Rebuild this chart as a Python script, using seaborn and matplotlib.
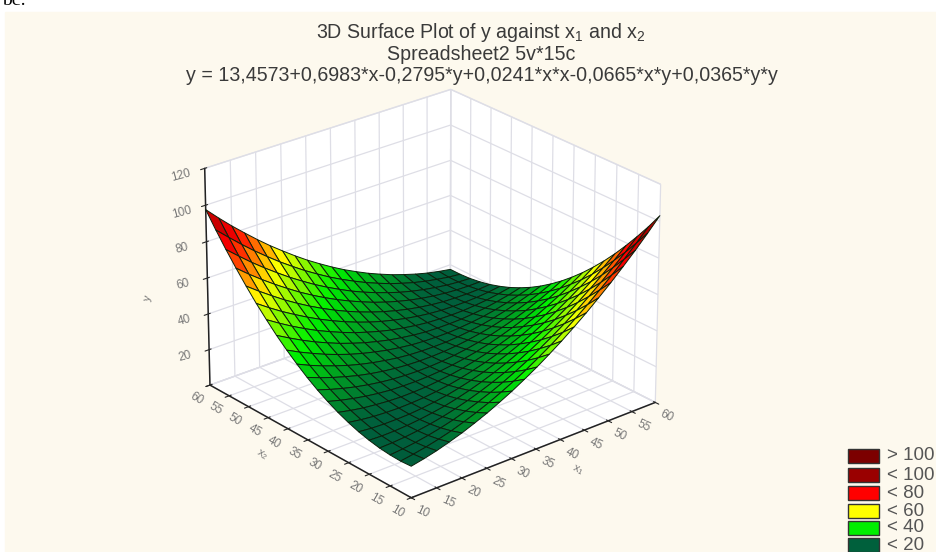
import numpy as np
import matplotlib
matplotlib.use("Agg")
import matplotlib.pyplot as plt
from matplotlib.patches import Rectangle
import seaborn as sns

x1_grid = [10, 12.5, 15, 17.5, 20, 22.5, 25, 27.5, 30, 32.5, 35, 37.5, 40, 42.5, 45, 47.5, 50, 52.5, 55, 57.5, 60]
x2_grid = [10, 12.5, 15, 17.5, 20, 22.5, 25, 27.5, 30, 32.5, 35, 37.5, 40, 42.5, 45, 47.5, 50, 52.5, 55, 57.5, 60]
# surface heights, one row per x2 value, taken from the fitted equation printed in the title
z_vals = [
    [17.1, 18.5, 20.2, 22.3, 24.6, 27.3, 30.2, 33.5, 37.0, 40.9, 45.0, 49.5, 54.2, 59.3, 64.6, 70.3, 76.2, 82.5, 89.0, 95.9, 103.1],
    [16.7, 17.8, 19.1, 20.7, 22.6, 24.9, 27.4, 30.2, 33.4, 36.8, 40.5, 44.6, 48.9, 53.5, 58.5, 63.7, 69.3, 75.1, 81.3, 87.7, 94.4],
    [16.9, 17.5, 18.4, 19.6, 21.1, 22.9, 25.1, 27.5, 30.2, 33.2, 36.5, 40.1, 44.1, 48.3, 52.8, 57.6, 62.8, 68.2, 73.9, 79.9, 86.3],
    [17.5, 17.7, 18.2, 19.0, 20.1, 21.5, 23.2, 25.2, 27.5, 30.1, 33.0, 36.2, 39.7, 43.5, 47.6, 52.0, 56.7, 61.7, 67.0, 72.7, 78.6],
    [18.6, 18.3, 18.4, 18.8, 19.5, 20.5, 21.7, 23.3, 25.2, 27.4, 29.9, 32.7, 35.8, 39.2, 42.8, 46.8, 51.1, 55.7, 60.6, 65.8, 71.3],
    [20.1, 19.4, 19.1, 19.1, 19.3, 19.9, 20.8, 21.9, 23.4, 25.2, 27.2, 29.6, 32.3, 35.3, 38.5, 42.1, 46.0, 50.2, 54.7, 59.4, 64.5],
    [22.1, 21.0, 20.2, 19.8, 19.6, 19.8, 20.2, 21.0, 22.0, 23.4, 25.1, 27.0, 29.3, 31.8, 34.7, 37.9, 41.3, 45.1, 49.2, 53.5, 58.2],
    [24.5, 23.0, 21.8, 21.0, 20.4, 20.1, 20.2, 20.5, 21.2, 22.1, 23.3, 24.9, 26.7, 28.9, 31.3, 34.1, 37.1, 40.5, 44.1, 48.1, 52.3],
    [27.4, 25.5, 23.9, 22.6, 21.6, 20.9, 20.6, 20.5, 20.7, 21.2, 22.1, 23.2, 24.6, 26.3, 28.4, 30.7, 33.3, 36.3, 39.5, 43.0, 46.9],
    [30.7, 28.4, 26.4, 24.7, 23.3, 22.2, 21.4, 20.9, 20.7, 20.8, 21.2, 22.0, 23.0, 24.3, 25.9, 27.8, 30.0, 32.5, 35.4, 38.5, 41.9],
    [34.5, 31.8, 29.4, 27.3, 25.4, 23.9, 22.7, 21.8, 21.2, 20.9, 20.9, 21.2, 21.8, 22.7, 23.9, 25.4, 27.2, 29.3, 31.7, 34.4, 37.4],
    [38.8, 35.6, 32.8, 30.3, 28.0, 26.1, 24.5, 23.2, 22.1, 21.4, 21.0, 20.9, 21.0, 21.5, 22.3, 23.4, 24.8, 26.5, 28.5, 30.7, 33.3],
    [43.5, 39.9, 36.7, 33.7, 31.1, 28.7, 26.7, 25.0, 23.5, 22.4, 21.5, 21.0, 20.8, 20.8, 21.2, 21.9, 22.8, 24.1, 25.7, 27.6, 29.7],
    [48.6, 44.7, 41.0, 37.6, 34.6, 31.8, 29.4, 27.2, 25.4, 23.8, 22.6, 21.6, 20.9, 20.6, 20.6, 20.8, 21.4, 22.2, 23.4, 24.8, 26.6],
    [54.3, 49.9, 45.8, 42.0, 38.5, 35.4, 32.5, 29.9, 27.7, 25.7, 24.0, 22.7, 21.6, 20.8, 20.4, 20.2, 20.3, 20.8, 21.5, 22.6, 23.9],
    [60.3, 55.5, 51.0, 46.9, 43.0, 39.4, 36.1, 33.1, 30.4, 28.0, 25.9, 24.2, 22.7, 21.5, 20.6, 20.0, 19.8, 19.8, 20.1, 20.7, 21.7],
    [66.9, 61.7, 56.8, 52.1, 47.8, 43.8, 40.1, 36.7, 33.6, 30.8, 28.3, 26.1, 24.2, 22.6, 21.3, 20.3, 19.6, 19.3, 19.2, 19.4, 19.9],
    [73.9, 68.2, 62.9, 57.9, 53.2, 48.7, 44.6, 40.8, 37.3, 34.1, 31.2, 28.5, 26.2, 24.2, 22.5, 21.1, 20.0, 19.2, 18.7, 18.5, 18.6],
    [81.3, 75.3, 69.5, 64.1, 59.0, 54.1, 49.6, 45.3, 41.4, 37.8, 34.4, 31.4, 28.7, 26.3, 24.1, 22.3, 20.8, 19.6, 18.6, 18.0, 17.7],
    [89.2, 82.8, 76.6, 70.7, 65.2, 59.9, 55.0, 50.3, 46.0, 41.9, 38.2, 34.8, 31.6, 28.8, 26.2, 24.0, 22.0, 20.4, 19.1, 18.0, 17.3],
    [97.6, 90.7, 84.1, 77.9, 71.9, 66.2, 60.9, 55.8, 51.0, 46.6, 42.4, 38.5, 35.0, 31.7, 28.8, 26.1, 23.8, 21.7, 19.9, 18.5, 17.3],
]
axis_ticks = [10, 15, 20, 25, 30, 35, 40, 45, 50, 55, 60]
z_ticks = [0, 20, 40, 60, 80, 100, 120]
z_tick_labels = ["", "20", "40", "60", "80", "100", "120"]
legend_labels = ["> 100", "< 100", "< 80", "< 60", "< 40", "< 20"]
legend_colors = ["#7c0000", "#9a0000", "#ff0000", "#ffff00", "#00ee00", "#00603c"]
band_colors = ["#004f38", "#00603c", "#00f000", "#ffff00", "#ff0000", "#9a0000", "#7c0000"]

W, H = 936, 552
sns.set_style("white")
plt.rcParams["font.family"] = ["Liberation Sans", "DejaVu Sans"]
plt.rcParams["mathtext.default"] = "regular"

fig = plt.figure(figsize=(W / 100, H / 100), dpi=100, facecolor="white")
fig.add_artist(Rectangle((5 / W, 0), 1, 1 - 12 / H, transform=fig.transFigure, color="#fdf9ee", zorder=-5))

# square axes, size and centre in pixels
size, cx, cy = 497, 425, 293
ax = fig.add_axes([(cx - size / 2) / W, 1 - (cy + size / 2) / H, size / W, size / H], projection="3d")
ax.patch.set_alpha(0)
ax.view_init(elev=25, azim=230)
ax.set_proj_type("persp", focal_length=1.6)
ax.set_box_aspect((1, 1, 0.75))

X, Y = np.meshgrid(x1_grid, x2_grid)
Z = np.array(z_vals)
cmap = sns.blend_palette(band_colors, as_cmap=True)
ax.plot_surface(X, Y, Z, cmap=cmap, vmin=0, vmax=120, rcount=21, ccount=21,
                edgecolor="#0c200c", linewidth=0.7, shade=False)

ax.set_xlim(10, 60)
ax.set_ylim(10, 60)
ax.set_zlim(0, 120)
ax.set_xticks(axis_ticks)
ax.set_yticks(axis_ticks)
ax.set_zticks(z_ticks)
ax.set_zticklabels(z_tick_labels)
ax.tick_params(labelsize=8.5, labelcolor="#777777", pad=2)
for axis in (ax.xaxis, ax.yaxis, ax.zaxis):
    axis.pane.set_facecolor("white")
    axis.pane.set_edgecolor("#e2e2e8")
    axis.pane.set_alpha(1)
    axis._axinfo["grid"].update(color="#dedee6", linewidth=0.9)
    axis.line.set_color("#222222")
    axis.line.set_linewidth(1.1)
# push the tick labels out along the floor only, not downwards too
ax.xaxis._axmask = lambda: [False, True, False]
ax.yaxis._axmask = lambda: [True, False, False]
for lab in ax.get_xticklabels():
    lab.set_rotation(-25)
for lab in ax.get_yticklabels():
    lab.set_rotation(-30)
for lab in ax.get_zticklabels():
    lab.set_rotation(15)

fig.text(578 / W, 1 - 470 / H, "x$_1$", ha="center", va="center", fontsize=8, color="#777777", rotation=-25)
fig.text(262 / W, 1 - 455 / H, "x$_2$", ha="center", va="center", fontsize=8, color="#777777", rotation=-30)
fig.text(148 / W, 1 - 298 / H, "y", ha="center", va="center", fontsize=8, color="#777777", rotation=75)

fig.text(2 / W, 1 - 5 / H, "bc:", ha="left", va="baseline", fontsize=14, family="Liberation Serif", color="black")
fig.text(481 / W, 1 - 32 / H, "3D Surface Plot of y against x$_1$ and x$_2$", ha="center", va="center", fontsize=14.1, color="#3a3a3a")
fig.text(481 / W, 1 - 54 / H, "Spreadsheet2 5v*15c", ha="center", va="center", fontsize=14.1, color="#3a3a3a")
fig.text(482 / W, 1 - 76 / H, "y = 13,4573+0,6983*x-0,2795*y+0,0241*x*x-0,0665*x*y+0,0365*y*y", ha="center", va="center", fontsize=14.1, color="#3a3a3a")

box_tops = [448, 467, 485, 503, 520, 537]
for top, lab, col in zip(box_tops, legend_labels, legend_colors):
    fig.add_artist(Rectangle((848 / W, 1 - (top + 15) / H), 31 / W, 14.5 / H, transform=fig.transFigure,
                             facecolor=col, edgecolor="#333333", linewidth=1.0))
    fig.text(887 / W, 1 - (top + 8) / H, lab, ha="left", va="center", fontsize=13.5, color="#555555")

fig.savefig("out.png", dpi=100)
